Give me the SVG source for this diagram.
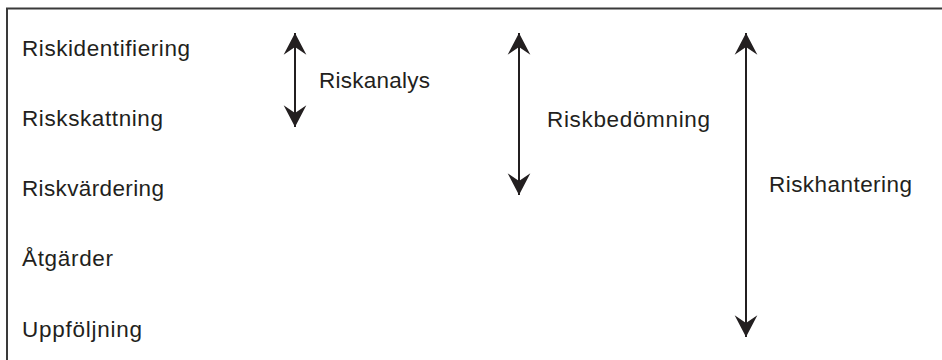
<svg xmlns="http://www.w3.org/2000/svg" width="942" height="360" viewBox="0 0 942 360">
<style>
.t{font-family:"Liberation Sans",Arial,sans-serif;font-size:22.5px;fill:#231f20}
.c{stroke:#231f20;stroke-width:2;fill:none}
</style>
<defs>
<marker id="ah" markerUnits="userSpaceOnUse" markerWidth="26" markerHeight="26" viewBox="-21 -12 22 24" refX="0" refY="0" orient="auto-start-reverse">
<path d="M0,0 L-20,-10.5 L-13,0 L-20,10.5 Z" fill="#231f20"/>
</marker>
</defs>
<rect width="942" height="360" fill="#fff"/>
<path d="M7,370 V8.5 H950" fill="none" stroke="#3a3a3a" stroke-width="2"/>
<g id="n1"><text class="t" x="22" y="56" textLength="168" lengthAdjust="spacing">Riskidentifiering</text></g>
<g id="n2"><text class="t" x="22" y="126" textLength="141" lengthAdjust="spacing">Riskskattning</text></g>
<g id="n3"><text class="t" x="22" y="196" textLength="142" lengthAdjust="spacing">Riskvärdering</text></g>
<g id="n4"><text class="t" x="22" y="266" textLength="91" lengthAdjust="spacing">Åtgärder</text></g>
<g id="n5"><text class="t" x="22" y="337" textLength="120" lengthAdjust="spacing">Uppföljning</text></g>
<g id="l1"><text class="t" x="319" y="88" textLength="111" lengthAdjust="spacing">Riskanalys</text></g>
<g id="l2"><text class="t" x="547" y="127" textLength="163" lengthAdjust="spacing">Riskbedömning</text></g>
<g id="l3"><text class="t" x="769" y="192" textLength="143" lengthAdjust="spacing">Riskhantering</text></g>
<g id="connectors">
<line class="c" x1="295" y1="33" x2="295" y2="127" marker-start="url(#ah)" marker-end="url(#ah)"/>
<line class="c" x1="519" y1="33" x2="519" y2="195" marker-start="url(#ah)" marker-end="url(#ah)"/>
<line class="c" x1="746" y1="33" x2="746" y2="337" marker-start="url(#ah)" marker-end="url(#ah)"/>
</g>
</svg>
